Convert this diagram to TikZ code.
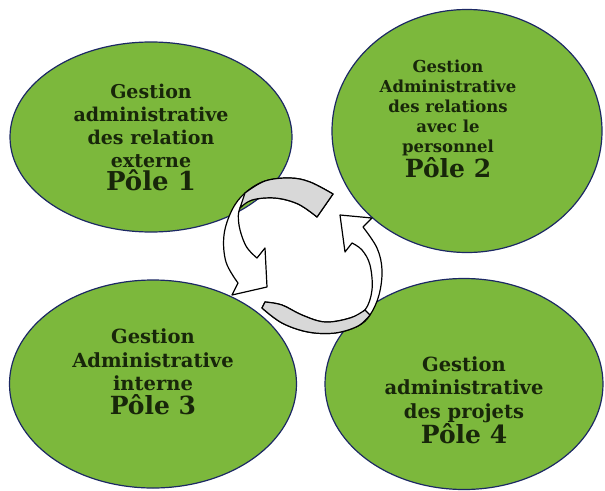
\documentclass[tikz,border=0pt]{standalone}
\usepackage{fontspec}
\setmainfont{DejaVu Serif}
\usetikzlibrary{shapes.geometric}
\definecolor{poleGreen}{RGB}{124,184,60}
\definecolor{poleEdge}{RGB}{28,40,100}
\definecolor{poleText}{RGB}{24,38,10}
\definecolor{bandGray}{RGB}{216,216,216}
\begin{document}
\begin{tikzpicture}[x=1pt,y=-1pt,
  pole/.style = {draw=poleEdge, line width=1.2pt, fill=poleGreen, ellipse, inner sep=0pt},
  txt/.style = {align=center, text=poleText, font=\bfseries\fontsize{19.5}{23.5}\selectfont},
  band/.style = {draw=black, line width=1.2pt, fill=white, line join=round}]
\useasboundingbox (0,0) rectangle (605,490);
\node[pole, minimum width=282pt, minimum height=190pt] (1) at (151,137) {};
\node[pole, minimum width=270pt, minimum height=243pt] (2) at (467,131) {};
\node[pole, minimum width=287pt, minimum height=208pt] (3) at (153,384) {};
\node[pole, minimum width=278pt, minimum height=211pt] (4) at (464,384) {};
\node[txt, font=\bfseries\fontsize{19}{23}\selectfont] (t1) at (1) {Gestion\\administrative\\des relation\\externe\\{\fontsize{26}{28}\selectfont Pôle 1}};
\node[txt, font=\bfseries\fontsize{16.5}{20}\selectfont, xshift=-19pt, yshift=12pt] (t2) at (2) {Gestion\\Administrative\\des relations\\avec le\\personnel\\{\fontsize{25}{27}\selectfont Pôle 2}};
\node[txt, yshift=12pt] (t3) at (3) {Gestion\\Administrative\\interne\\{\fontsize{25}{27}\selectfont Pôle 3}};
\node[txt, yshift=-16pt] (t4) at (4) {Gestion\\administrative\\des projets\\{\fontsize{25}{27}\selectfont Pôle 4}};
% cycle arrows in the middle
\draw[band] plot[smooth, tension=0.6] coordinates {(333,194) (310,182) (290,178) (265,181) (245,193) (232,210) (224,235) (226,262) (238,283)}
  -- (232,295) -- (267,287) -- (265,248) -- (257,258)
  -- plot[smooth, tension=0.6] coordinates {(257,258) (246,246) (239,225) (240,208) (252,200) (275,198) (298,204) (317,217)} -- cycle;
\filldraw[band, fill=bandGray] plot[smooth, tension=0.6] coordinates {(333,194) (310,182) (290,178) (265,181) (245,193)}
  -- plot[smooth, tension=0.6] coordinates {(240,208) (252,200) (275,198) (298,204) (317,217)} -- cycle;
\draw[band] plot[smooth, tension=0.6] coordinates {(265,302) (282,305) (302,315) (325,322) (350,318) (365,310) (372,290) (370,265) (362,250) (352,243)}
  -- (345,252) -- (340,215) -- (372,218) -- (363,227)
  -- plot[smooth, tension=0.6] coordinates {(363,227) (377,248) (382,270) (379,295) (370,315) (358,326) (335,333) (308,332) (282,323) (262,308)} -- cycle;
\filldraw[band, fill=bandGray] plot[smooth, tension=0.6] coordinates {(265,302) (282,305) (302,315) (325,322) (350,318) (365,310)}
  -- plot[smooth, tension=0.6] coordinates {(370,315) (358,326) (335,333) (308,332) (282,323) (262,308)} -- cycle;
\end{tikzpicture}
\end{document}
